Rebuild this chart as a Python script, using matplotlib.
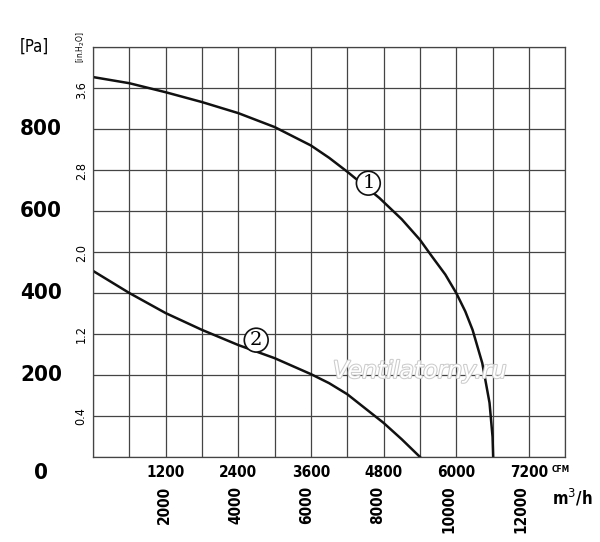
import numpy as np
import matplotlib.pyplot as plt
import matplotlib.patheffects as pe

# curve 1 (CFM, Pa)
c1_cfm = [0, 600, 1200, 1800, 2400, 3000, 3600, 3900, 4200, 4730, 5100, 5400, 5600,
          5820, 6000, 6150, 6270, 6430, 6550, 6600, 6610]
c1_pa = [927, 912, 890, 866, 839, 805, 760, 730, 696, 632, 580, 530, 489,
         445, 400, 355, 310, 229, 132, 49, 0]
# curve 2
c2_cfm = [0, 600, 1200, 1800, 2400, 3000, 3600, 3900, 4200, 4800, 5100, 5400]
c2_pa = [454, 400, 351, 310, 273, 241, 202, 180, 153, 83, 43, 0]

pa_ticks = [0, 200, 400, 600, 800]
inh2o_ticks = [0.4, 1.2, 2.0, 2.8, 3.6]
cfm_ticks = [1200, 2400, 3600, 4800, 6000, 7200]
m3h_ticks = [2000, 4000, 6000, 8000, 10000, 12000]

fig = plt.figure(figsize=(6, 5.42), dpi=100)
ax = fig.add_axes([0.155, 0.157, 0.787, 0.756])
ax.set_xlim(0, 7800)
ax.set_ylim(0, 1000)
ax.set_xticks(np.arange(0, 7801, 600))
ax.set_yticks(np.arange(0, 1001, 100))
ax.grid(True, color='#444444', linewidth=0.9)
ax.tick_params(length=0, labelbottom=False, labelleft=False)
for s in ax.spines.values():
    s.set_color('#444444')
    s.set_linewidth(0.9)

ax.plot(c1_cfm, c1_pa, color='#111111', linewidth=1.8, solid_joinstyle='round')
ax.plot(c2_cfm, c2_pa, color='#111111', linewidth=1.8, solid_joinstyle='round')

for lbl, (x, y) in (('1', (4548, 668)), ('2', (2696, 285))):
    ax.text(x, y, lbl, ha='center', va='center', fontsize=14, family='DejaVu Serif',
            bbox=dict(boxstyle='circle,pad=0.15', fc='white', ec='#111111', lw=1.2))

ax.text(5400, 210, 'Ventilatorny.ru', ha='center', va='center', fontsize=17,
        style='italic', color='white',
        path_effects=[pe.withStroke(linewidth=1.5, foreground='#cccccc')])

cond = dict(family='DejaVu Sans', stretch='condensed')
tr = ax.get_yaxis_transform()
for p in pa_ticks:
    y = p if p else -40
    ax.text(-0.11, y, str(p), transform=tr, ha='center', va='center', fontsize=16,
            fontweight='bold', **cond)
ax.text(-0.125, 1000, '[Pa]', transform=tr, ha='center', va='center', fontsize=12, **cond)
for v in inh2o_ticks:
    ax.text(-0.025, v * 249, f'{v:.1f}', transform=tr, ha='center', va='center',
            fontsize=9, rotation=90, **cond)
ax.text(-0.025, 1000, '[in.H$_2$O]', transform=tr, ha='center', va='center', fontsize=6,
        rotation=90, **cond)

tx = ax.get_xaxis_transform()
for c in cfm_ticks:
    ax.text(c, -0.02, str(c), transform=tx, ha='center', va='top', fontsize=11,
            fontweight='bold', **cond)
ax.text(7580, -0.02, 'CFM', transform=tx, ha='left', va='top', fontsize=6,
        fontweight='bold', **cond)
for m in m3h_ticks:
    ax.text(m / 1.699, -0.07, str(m), transform=tx, ha='center', va='top', fontsize=11,
            rotation=90, fontweight='bold', **cond)
ax.text(7580, -0.075, 'm$^3$/h', transform=tx, ha='left', va='top', fontsize=12,
        fontweight='bold', **cond)

fig.savefig('out.png', dpi=100)
